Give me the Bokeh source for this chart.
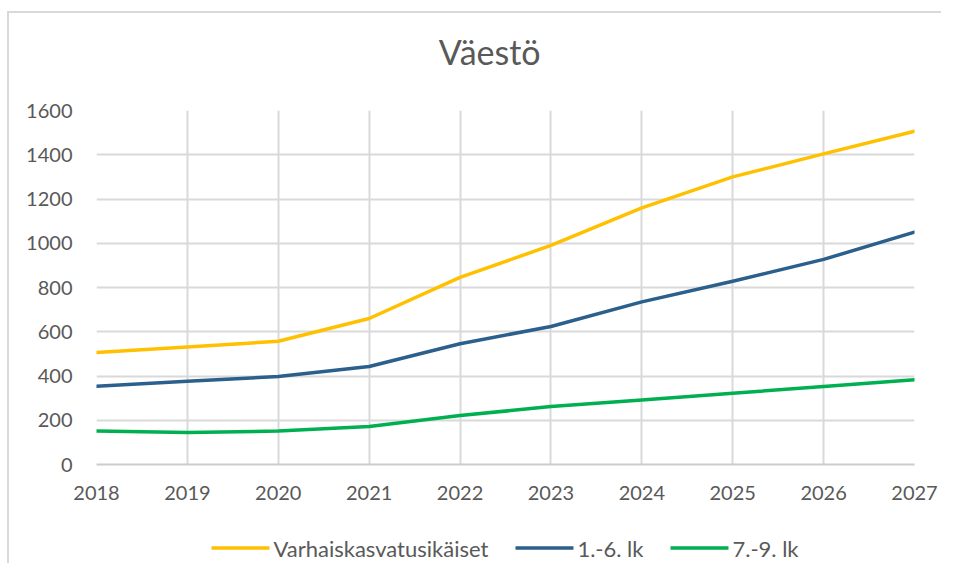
from bokeh.plotting import figure
from bokeh.models import Legend, LegendItem, FixedTicker, Label, Range1d
from bokeh.layouts import column
from bokeh.embed import file_html
from bokeh.resources import INLINE

years = [2018, 2019, 2020, 2021, 2022, 2023, 2024, 2025, 2026, 2027]
varhaiskasvatus = [506, 531, 557, 660, 846, 990, 1160, 1300, 1404, 1506]
lk_1_6 = [354, 376, 398, 443, 546, 624, 735, 828, 927, 1050]
lk_7_9 = [151, 145, 151, 172, 221, 262, 292, 322, 353, 383]
series_names = ["Varhaiskasvatusikäiset", "1.-6. lk", "7.-9. lk"]
colors = ["#FFC000", "#2B5F8C", "#00B050"]
y_ticks = [0, 200, 400, 600, 800, 1000, 1200, 1400, 1600]
title_text = "Väestö"

FONT = "Lato"
TXT = "#595959"
GRID = "#d9d9d9"
W = 932


def strip(height, left=0, right=0, xr=(0, W), yr=(0, 1)):
    f = figure(width=W, height=height, output_backend="svg", toolbar_location=None,
               x_range=Range1d(*xr), y_range=Range1d(*yr),
               x_axis_location=None, y_axis_location=None,
               min_border_left=left, min_border_right=right, min_border_top=0, min_border_bottom=0)
    f.xgrid.visible = False
    f.ygrid.visible = False
    f.outline_line_color = None
    f.border_fill_color = "white"
    f.background_fill_color = "white"
    return f


# title strip
pt = strip(84)
pt.add_layout(Label(x=448, y=0.55, text=title_text, text_align="center", text_baseline="middle",
                    text_font=FONT, text_font_size="34px", text_color=TXT))

# main chart
p = figure(width=W, height=435, output_backend="svg", toolbar_location=None,
           x_range=(2018, 2027), y_range=(0, 1600),
           min_border_left=87, min_border_right=27, min_border_top=13, min_border_bottom=68)
p.outline_line_color = None
p.background_fill_color = "white"
p.border_fill_color = "white"

p.xaxis.ticker = FixedTicker(ticks=years)
p.yaxis.ticker = FixedTicker(ticks=y_ticks)
for ax in (p.xaxis, p.yaxis):
    ax.major_label_text_font = FONT
    ax.major_label_text_font_size = "20px"
    ax.major_label_text_color = TXT
    ax.major_tick_line_color = None
    ax.minor_tick_line_color = None
    ax.major_tick_out = 0
    ax.major_tick_in = 0
p.yaxis.axis_line_color = None
p.xaxis.axis_line_color = "#cccccc"
p.xaxis.axis_line_width = 2
p.yaxis.major_label_standoff = 24
p.xaxis.major_label_standoff = 21

p.xgrid.ticker = FixedTicker(ticks=years)
p.ygrid.ticker = FixedTicker(ticks=y_ticks)
p.xgrid.grid_line_color = GRID
p.ygrid.grid_line_color = GRID
p.xgrid.grid_line_width = 2
p.ygrid.grid_line_width = 2

for vals, c in zip([varhaiskasvatus, lk_1_6, lk_7_9], colors):
    p.line(years, vals, line_color=c, line_width=3.5, line_join="round", line_cap="round")

# legend strip below the chart (its sample lines lie outside the visible range)
pl = strip(31, left=29, xr=(10, 11), yr=(10, 11))
leg_renderers = [pl.line([0, 1], [0, 0], line_color=c, line_width=3.5, line_cap="round") for c in colors]

legend = Legend(items=[LegendItem(label=n, renderers=[r]) for n, r in zip(series_names, leg_renderers)],
                orientation="horizontal", location="center")
legend.label_text_font = FONT
legend.label_text_font_size = "22px"
legend.label_text_color = TXT
legend.glyph_width = 58
legend.glyph_height = 22
legend.label_standoff = 4
legend.spacing = 27
legend.border_line_color = None
legend.background_fill_alpha = 0
legend.margin = 0
legend.padding = 0
pl.add_layout(legend)

layout = column(pt, p, pl, spacing=0,
                styles={"border-left": "2px solid #d9d9d9", "border-top": "2px solid #d9d9d9",
                        "margin-left": "7px", "margin-top": "11px"})
open("out.html", "w").write(file_html(layout, INLINE))
